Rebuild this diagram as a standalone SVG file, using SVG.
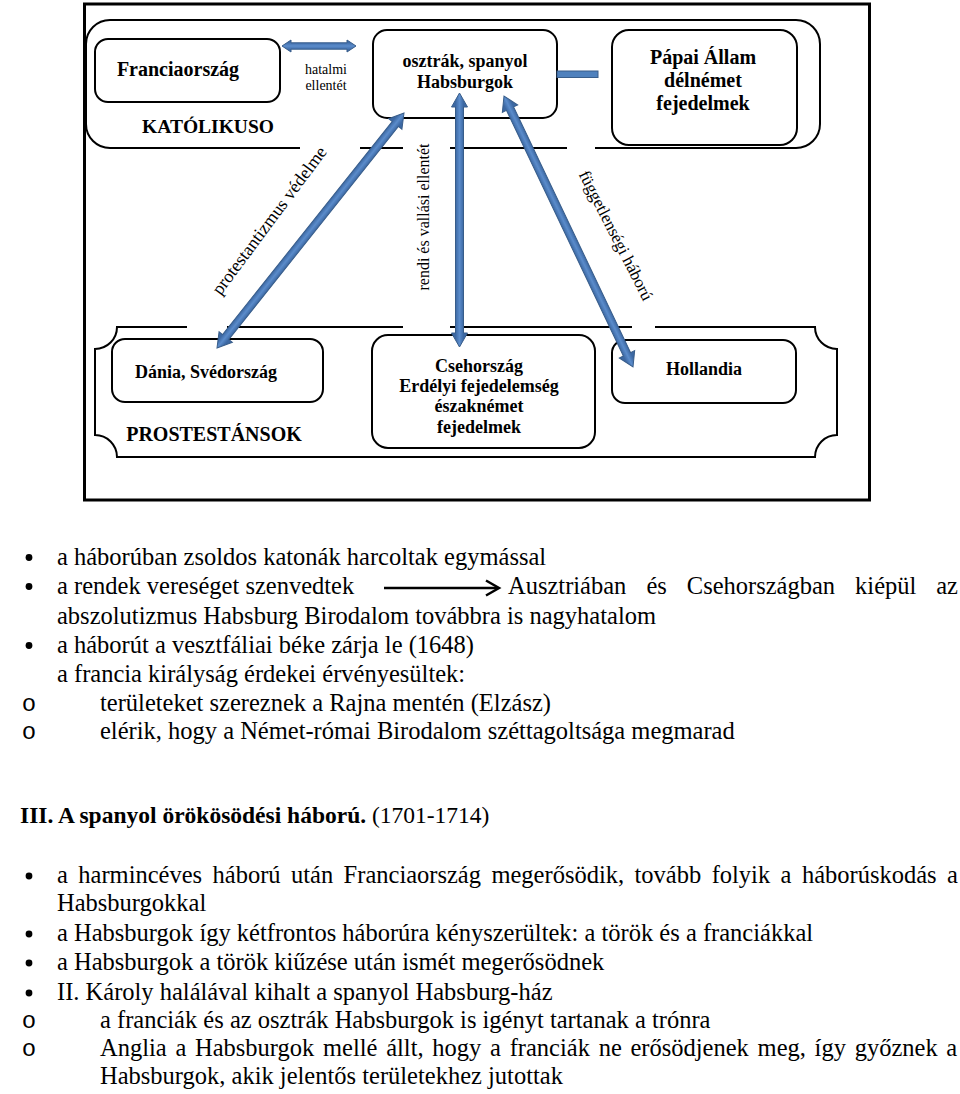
<svg xmlns="http://www.w3.org/2000/svg" width="960" height="1094" viewBox="0 0 960 1094" font-family="Liberation Serif, Times New Roman, serif">
<style>
.frame{fill:none;stroke:#000;stroke-width:3}
.grp{fill:none;stroke:#000;stroke-width:2}
.box{fill:#fff;stroke:#000;stroke-width:2}
.arr{fill:url(#bg);stroke:#385D8A;stroke-width:1}
.nb{font-family:"Liberation Serif","Times New Roman",Times,serif;font-weight:bold;fill:#000;text-anchor:middle}
.lb{font-family:"Liberation Serif","Times New Roman",Times,serif;fill:#000;text-anchor:middle}
.t{font-family:"Liberation Serif","Times New Roman",Times,serif;font-size:24.5px;fill:#000}
.mk{font-family:"Liberation Mono","Courier New",monospace;font-size:24px;fill:#000;text-anchor:middle}
</style>
<defs>
<linearGradient id="bg" gradientUnits="userSpaceOnUse" x1="0" y1="-4" x2="0" y2="4">
<stop offset="0" stop-color="#3C68A3"/>
<stop offset="0.5" stop-color="#5B8CCB"/>
<stop offset="1" stop-color="#3C68A3"/>
</linearGradient>
</defs>
<rect width="960" height="1094" fill="#fff"/>

<g id="frame"><rect class="frame" x="84.5" y="4" width="785" height="496"/></g>

<g id="group-katolikus">
<path class="grp" d="M300,148 H110 A24,24 0 0 1 86,124 V44 A24,24 0 0 1 110,20 H796 A24,24 0 0 1 820,44 V124 A24,24 0 0 1 796,148 H595 M360,148 H403 M450,148 H567"/>
<text class="nb" x="208" y="133" font-size="19.5">KATÓLIKUSO</text>
</g>
<g id="node-francia">
<rect class="box" x="95" y="39" width="185" height="63" rx="13"/>
<text class="nb" x="178" y="76" font-size="20">Franciaország</text>
</g>
<g id="node-habsburg">
<rect class="box" x="373" y="30" width="184" height="88" rx="14"/>
<text class="nb" x="465" y="67" font-size="18">osztrák, spanyol</text>
<text class="nb" x="465" y="88" font-size="18">Habsburgok</text>
</g>
<g id="node-papai">
<rect class="box" x="612" y="30" width="185" height="115" rx="17"/>
<text class="nb" x="703" y="64" font-size="20">Pápai Állam</text>
<text class="nb" x="703" y="87" font-size="20">délnémet</text>
<text class="nb" x="703" y="110" font-size="20">fejedelmek</text>
</g>

<g id="group-protestans">
<path class="grp" d="M187,327 H117 A22,22 0 0 1 95,349 V435 A22,22 0 0 1 117,457 H815 A22,22 0 0 1 837,435 V349 A22,22 0 0 1 815,327 H655 M227,327 H403 M450,327 H632"/>
<text class="nb" x="214" y="441" font-size="20">PROSTESTÁNSOK</text>
</g>
<g id="node-dania">
<rect class="box" x="112" y="339" width="211" height="63" rx="13"/>
<text class="nb" x="206" y="378" font-size="18">Dánia, Svédország</text>
</g>
<g id="node-cseh">
<rect class="box" x="372" y="335" width="223" height="113" rx="16"/>
<text class="nb" x="479" y="372" font-size="18">Csehország</text>
<text class="nb" x="479" y="392" font-size="18">Erdélyi fejedelemség</text>
<text class="nb" x="479" y="412" font-size="18">északnémet</text>
<text class="nb" x="479" y="433" font-size="18">fejedelmek</text>
</g>
<g id="node-hollandia">
<rect class="box" x="612" y="340" width="184" height="63" rx="13"/>
<text class="nb" x="704" y="375" font-size="18">Hollandia</text>
</g>

<g id="connectors">
<g transform="translate(282,46)"><polygon class="arr" points="0,0 9,6 9,3.2 65,3.2 65,6 74,0 65,-6 65,-3.2 9,-3.2 9,-6"/></g>
<rect class="arr" x="557" y="71" width="41" height="6.5" style="fill:#4F81BD"/>
<g transform="translate(217,348) rotate(-51.49)"><polygon class="arr" points="0,0 14,8.5 14,4 286.3,4 286.3,8.5 300.3,0 286.3,-8.5 286.3,-4 14,-4 14,-8.5"/></g>
<g transform="translate(459.5,93) rotate(90)"><polygon class="arr" points="0,0 14,8 14,4 240,4 240,8 254,0 240,-8 240,-4 14,-4 14,-8"/></g>
<g transform="translate(504,96) rotate(64.54)"><polygon class="arr" points="0,0 14,8.5 14,4 286.1,4 286.1,8.5 300.1,0 286.1,-8.5 286.1,-4 14,-4 14,-8.5"/></g>
</g>

<g id="labels">
<text class="lb" x="326" y="74" font-size="14">hatalmi</text>
<text class="lb" x="326" y="90" font-size="14">ellentét</text>
<text class="lb" font-size="18" transform="translate(274,224) rotate(-53.4)">protestantizmus védelme</text>
<text class="lb" font-size="16" transform="translate(429,217) rotate(-90)">rendi és vallási ellentét</text>
<text class="lb" font-size="17" transform="translate(611,238) rotate(63)">függetlenségi háború</text>
</g>

<g id="text-body">
<circle cx="29" cy="557.5" r="3.4"/>
<circle cx="29" cy="586.5" r="3.4"/>
<circle cx="29" cy="645.5" r="3.4"/>
<text class="t" x="57" y="565">a háborúban zsoldos katonák harcoltak egymással</text>
<text class="t" x="57" y="594">a rendek vereséget szenvedtek</text>
<g id="text-arrow" fill="none" stroke="#000" stroke-width="2.5">
<line x1="384" y1="588" x2="497" y2="588"/>
<polyline points="486,580.5 499,588 486,595.5"/>
</g>
<text class="t" y="594"><tspan x="508">Ausztriában</tspan><tspan x="646.4">és</tspan><tspan x="686.8">Csehországban</tspan><tspan x="855.1">kiépül</tspan></text>
<text class="t" x="958" y="594" text-anchor="end">az</text>
<text class="t" x="57" y="624">abszolutizmus Habsburg Birodalom továbbra is nagyhatalom</text>
<text class="t" x="57" y="653">a háborút a vesztfáliai béke zárja le (1648)</text>
<text class="t" x="57" y="682">a francia királyság érdekei érvényesültek:</text>
<text class="mk" x="29" y="711">o</text>
<text class="t" x="100" y="711">területeket szereznek a Rajna mentén (Elzász)</text>
<text class="mk" x="29" y="739">o</text>
<text class="t" x="100" y="739">elérik, hogy a Német-római Birodalom széttagoltsága megmarad</text>

<text class="t" x="20" y="823" style="font-size:23.5px"><tspan font-weight="bold">III. A spanyol örökösödési háború.</tspan> (1701-1714)</text>

<circle cx="29" cy="876" r="3.4"/>
<circle cx="29" cy="934" r="3.4"/>
<circle cx="29" cy="963" r="3.4"/>
<circle cx="29" cy="993" r="3.4"/>
<text class="t" x="57" y="883" word-spacing="4.3">a harmincéves háború után Franciaország megerősödik, tovább folyik a háborúskodás a</text>
<text class="t" x="57" y="911">Habsburgokkal</text>
<text class="t" x="57" y="941">a Habsburgok így kétfrontos háborúra kényszerültek: a török és a franciákkal</text>
<text class="t" x="57" y="970">a Habsburgok a török kiűzése után ismét megerősödnek</text>
<text class="t" x="57" y="1000">II. Károly halálával kihalt a spanyol Habsburg-ház</text>
<text class="mk" x="29" y="1028">o</text>
<text class="t" x="100" y="1028">a franciák és az osztrák Habsburgok is igényt tartanak a trónra</text>
<text class="mk" x="29" y="1056">o</text>
<text class="t" x="100" y="1056" word-spacing="2.6">Anglia a Habsburgok mellé állt, hogy a franciák ne erősödjenek meg, így győznek a</text>
<text class="t" x="100" y="1084">Habsburgok, akik jelentős területekhez jutottak</text>
</g>
</svg>
